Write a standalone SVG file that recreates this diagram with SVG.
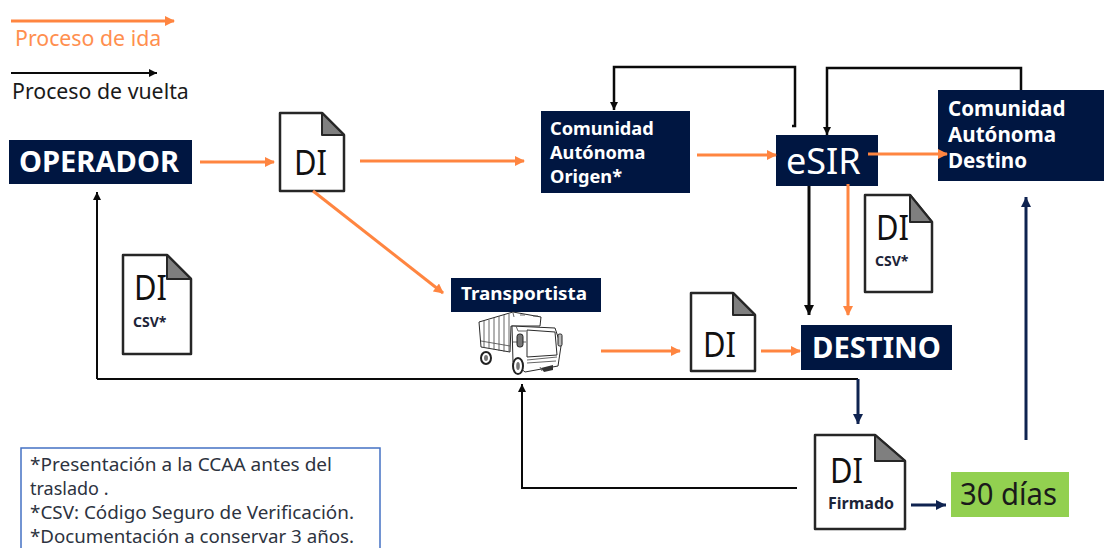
<svg xmlns="http://www.w3.org/2000/svg" width="1104" height="548" viewBox="0 0 1104 548">
<style>
text{font-family:"Noto Sans","Open Sans","Liberation Sans",sans-serif}
.navy{fill:#001641}
.w{fill:#fff;font-weight:700}
.doc{fill:#fff;stroke:#262626;stroke-width:2.5;stroke-linejoin:round}
.fold{fill:#7f7f7f;stroke:#262626;stroke-width:2;stroke-linejoin:round}
.di{fill:#111;font-size:35px}
.tag{fill:#1c2438;font-weight:700}
.o{fill:none;stroke:#ff8540;stroke-width:3}
.b{fill:none;stroke:#0a0a0a;stroke-width:2}
.b2{fill:none;stroke:#0a0a0a;stroke-width:2.5}
.n{fill:none;stroke:#0f2350;stroke-width:3}
.t{fill:#fff;stroke:#2a2a2a;stroke-width:1;stroke-linejoin:round}
.r{fill:none;stroke:#555;stroke-width:.9}
</style>
<defs>
<marker id="mo" markerWidth="11" markerHeight="11" refX="9" refY="5" orient="auto" markerUnits="userSpaceOnUse"><path d="M0 0L10 5L0 10z" fill="#ff8540"/></marker>
<marker id="mb" markerWidth="9" markerHeight="9" refX="8" refY="4" orient="auto" markerUnits="userSpaceOnUse"><path d="M0 0L8 4L0 8z" fill="#0a0a0a"/></marker>
<marker id="mbb" markerWidth="11" markerHeight="11" refX="10" refY="5" orient="auto" markerUnits="userSpaceOnUse"><path d="M0 0L10 5L0 10z" fill="#0a0a0a"/></marker>
<marker id="mn" markerWidth="11" markerHeight="11" refX="10" refY="5" orient="auto" markerUnits="userSpaceOnUse"><path d="M0 0L10 5L0 10z" fill="#0f2350"/></marker>
</defs>
<g id="legend">
<text x="15" y="46" font-size="21.3" fill="#ff8f4f">Proceso de ida</text>
<text x="12" y="99" font-size="21.3" fill="#1a1a1a">Proceso de vuelta</text>
</g>
<g id="operador"><rect class="navy" x="9" y="140" width="183" height="44"/><text class="w" x="19" y="172" font-size="29" textLength="160" lengthAdjust="spacingAndGlyphs">OPERADOR</text></g>
<g id="doc-di-1"><path class="doc" d="M280 113H322L344 135V191H280z"/><path class="fold" d="M322 113L344 135H322z"/><text class="di" x="294" y="175" textLength="33" lengthAdjust="spacingAndGlyphs">DI</text></g>
<g id="ca-origen"><rect class="navy" x="541" y="111" width="149" height="82"/><text class="w" font-size="18.2"><tspan x="550" y="135">Comunidad</tspan><tspan x="550" y="159">Autónoma</tspan><tspan x="550" y="183">Origen*</tspan></text></g>
<g id="esir"><rect class="navy" x="776" y="135" width="102" height="51"/><text x="786" y="174" font-size="36" fill="#fff">eSIR</text></g>
<g id="ca-destino"><rect class="navy" x="938" y="90" width="166" height="91"/><text class="w" font-size="20.6"><tspan x="948" y="116">Comunidad</tspan><tspan x="948" y="142">Autónoma</tspan><tspan x="948" y="168">Destino</tspan></text></g>
<g id="doc-csv-2"><path class="doc" d="M865 195H910L932 222V292H865z"/><path class="fold" d="M910 195L932 222H910z"/><text class="di" x="876" y="240" textLength="33" lengthAdjust="spacingAndGlyphs">DI</text><text class="tag" x="875" y="266" font-size="14">CSV*</text></g>
<g id="destino"><rect class="navy" x="801" y="325" width="151" height="45"/><text class="w" x="812" y="358" font-size="29" textLength="129" lengthAdjust="spacingAndGlyphs">DESTINO</text></g>
<g id="transportista"><rect class="navy" x="451" y="278" width="150" height="34"/><text class="w" x="461" y="300" font-size="17" textLength="126" lengthAdjust="spacingAndGlyphs">Transportista</text></g>
<g id="truck">
<path class="t" d="M479 322L513 312L541 317L540 326L511 326L510 352L481 347z"/>
<path class="r" d="M484 321V348M489 320V349M494 318V350M499 316V351M504 315V352M509 314V352M481 341L510 346"/>
<path class="t" d="M512 326L555 328L561 346L558 366L525 372L513 362z"/>
<path class="t" d="M527 330L555 332L557 355L527 357z"/>
<path class="r" d="M516 326L518 331L526 331M527 360L557 357M527 363L556 361M513 342L526 342M540 367L542 371"/>
<rect x="517" y="334" width="6" height="13" rx="2.5" fill="#777" stroke="#222"/>
<rect x="558" y="334" width="4" height="12" rx="1.5" fill="#bbb" stroke="#222"/>
<path class="r" d="M513 313L514 317M520 315H525M533 316H538"/>
<ellipse cx="518" cy="366" rx="5" ry="8" fill="#fff" stroke="#222" stroke-width="2"/><ellipse cx="518" cy="366" rx="1.8" ry="4" fill="#777"/>
<ellipse cx="486" cy="358" rx="5" ry="6" fill="#fff" stroke="#222" stroke-width="2"/><ellipse cx="486" cy="358" rx="2" ry="3" fill="#777"/>
<path d="M541 368L553 365L553 370L544 372z" fill="#333"/>
</g>
<g id="doc-di-3"><path class="doc" d="M691 293H733L755 315V371H691z"/><path class="fold" d="M733 293L755 315H733z"/><text class="di" x="703" y="357" textLength="33" lengthAdjust="spacingAndGlyphs">DI</text></g>
<g id="doc-csv-1"><path class="doc" d="M123 255H167L191 279V354H123z"/><path class="fold" d="M167 255L191 279H167z"/><text class="di" x="134" y="300" textLength="33" lengthAdjust="spacingAndGlyphs">DI</text><text class="tag" x="133" y="327" font-size="14">CSV*</text></g>
<g id="doc-firmado"><path class="doc" d="M815 435H875L905 461V529H815z"/><path class="fold" d="M875 435L905 461H875z"/><text class="di" x="830" y="483" textLength="33" lengthAdjust="spacingAndGlyphs">DI</text><text class="tag" x="828" y="509" font-size="16">Firmado</text></g>
<g id="dias"><rect x="951" y="472" width="118" height="45" fill="#92d050"/><text x="960" y="505" font-size="30" fill="#1a1a1a" textLength="97" lengthAdjust="spacingAndGlyphs">30 días</text></g>
<g id="nota"><path d="M21 549V448H380V549" fill="#fff" stroke="#4472c4" stroke-width="1.5"/><text font-size="18" fill="#2d3340"><tspan x="30" y="471" textLength="302" lengthAdjust="spacingAndGlyphs">*Presentación a la CCAA antes del</tspan><tspan x="30" y="495">traslado .</tspan><tspan x="30" y="519" textLength="324" lengthAdjust="spacingAndGlyphs">*CSV: Código Seguro de Verificación.</tspan><tspan x="30" y="543" textLength="324" lengthAdjust="spacingAndGlyphs">*Documentación a conservar 3 años.</tspan></text></g>
<g id="connectors">
<path class="o" d="M11 21H174" marker-end="url(#mo)"/>
<path class="b" d="M11 73H157" marker-end="url(#mb)"/>
<path class="o" d="M200 162H274" marker-end="url(#mo)"/>
<path class="o" d="M360 161H524" marker-end="url(#mo)"/>
<path class="o" d="M697 155H776" marker-end="url(#mo)"/>
<path class="b2" d="M792 126H795V67H614V110" marker-end="url(#mb)"/>
<path class="b2" d="M1021 90V68H827V135" marker-end="url(#mb)"/>
<path class="b" style="stroke-width:3" d="M809 186V315" marker-end="url(#mbb)"/>
<path class="o" d="M848 184V315" marker-end="url(#mo)"/>
<path class="o" d="M313 191L443 293" marker-end="url(#mo)"/>
<path class="o" d="M601 351H680" marker-end="url(#mo)"/>
<path class="o" d="M761 351H800" marker-end="url(#mo)"/>
<path class="o" d="M868 154H947" marker-end="url(#mo)"/>
<path class="b" d="M97 379V192" marker-end="url(#mb)"/>
<path class="b" d="M97 379H858"/>
<path class="n" d="M858 379V424" marker-end="url(#mn)"/>
<path class="b" d="M797 488H522V384" marker-end="url(#mb)"/>
<path class="n" d="M911 505H946" marker-end="url(#mn)"/>
<path class="n" d="M1026 440V197" marker-end="url(#mn)"/>
</g>
</svg>
